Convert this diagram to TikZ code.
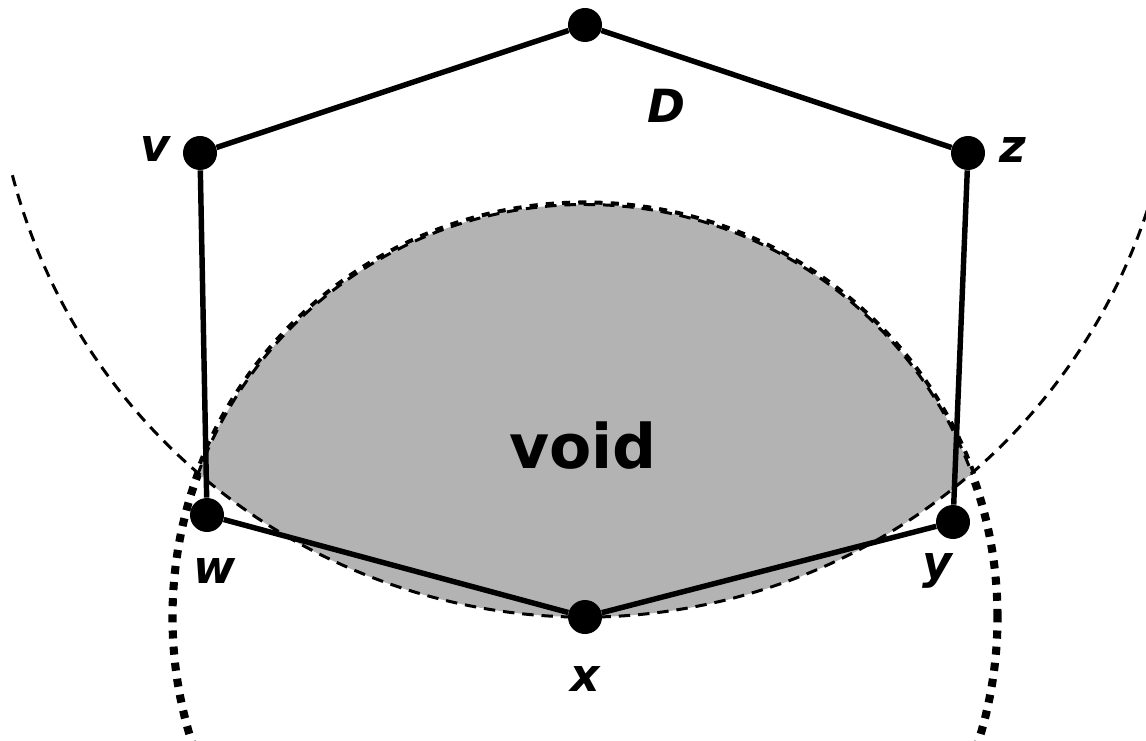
\documentclass[tikz,border=0pt]{standalone}
\usepackage{fontspec}
\newfontfamily\dejavu{DejaVu Sans}
\usetikzlibrary{positioning}
\definecolor{voidgray}{RGB}{179,179,179}
\tikzset{
  vertex/.style   = {circle, fill=black, inner sep=0pt, minimum size=0.68cm},
  edge/.style     = {line width=3.1pt},
  lbl/.style      = {font=\dejavu\bfseries\itshape\fontsize{26}{30}\selectfont,
                     inner sep=0pt, anchor=base},
  thindash/.style = {line width=1.7pt, dash pattern=on 6.5pt off 4.5pt},
  thickdot/.style = {line width=4.6pt, dash pattern=on 4.6pt off 4.6pt},
}

\begin{document}
\begin{tikzpicture}
  \useasboundingbox (0,0) rectangle (22.92,14.8);
  \clip (0,0) rectangle (22.92,14.8);

  % Circle centres
  \coordinate (dcenter) at (11.7,14.3);
  \coordinate (xcenter) at (11.7,2.46);

  % Circles and void
  \draw[thickdot] (xcenter) circle (8.25);
  \begin{scope}
    \clip (dcenter) circle (11.84);
    \fill[voidgray] (xcenter) circle (8.25);
    \draw[thindash] (xcenter) circle (8.25);
  \end{scope}
  \draw[thindash] (dcenter) ++(194.7:11.84) arc[start angle=194.7, end angle=350, radius=11.84];
  \node[font=\dejavu\bfseries\fontsize{35}{40}\selectfont, inner sep=0pt, anchor=base]
    (void) at (11.66,5.44) {void};

  % Vertices
  \node[vertex] (top) at (dcenter) {};
  \node[vertex] (v)   at (4.0,11.74) {};
  \node[vertex] (z)   at (19.36,11.74) {};
  \node[vertex] (w)   at (4.14,4.5) {};
  \node[vertex] (x)   at (xcenter) {};
  \node[vertex] (y)   at (19.06,4.36) {};

  % Edges
  \draw[edge] (top) -- (v);
  \draw[edge] (v) -- (w);
  \draw[edge] (w) -- (x);
  \draw[edge] (x) -- (y);
  \draw[edge] (y) -- (z);
  \draw[edge] (z) -- (top);

  % Labels
  \node[lbl] (lD) at (13.32,12.34) {D};
  \node[lbl] (lv) at (3.1,11.56) {v};
  \node[lbl] (lz) at (20.26,11.54) {z};
  \node[lbl] (lw) at (4.3,3.14) {w};
  \node[lbl] (lx) at (11.7,0.98) {x};
  \node[lbl] (ly) at (18.74,3.24) {y};
\end{tikzpicture}
\end{document}
